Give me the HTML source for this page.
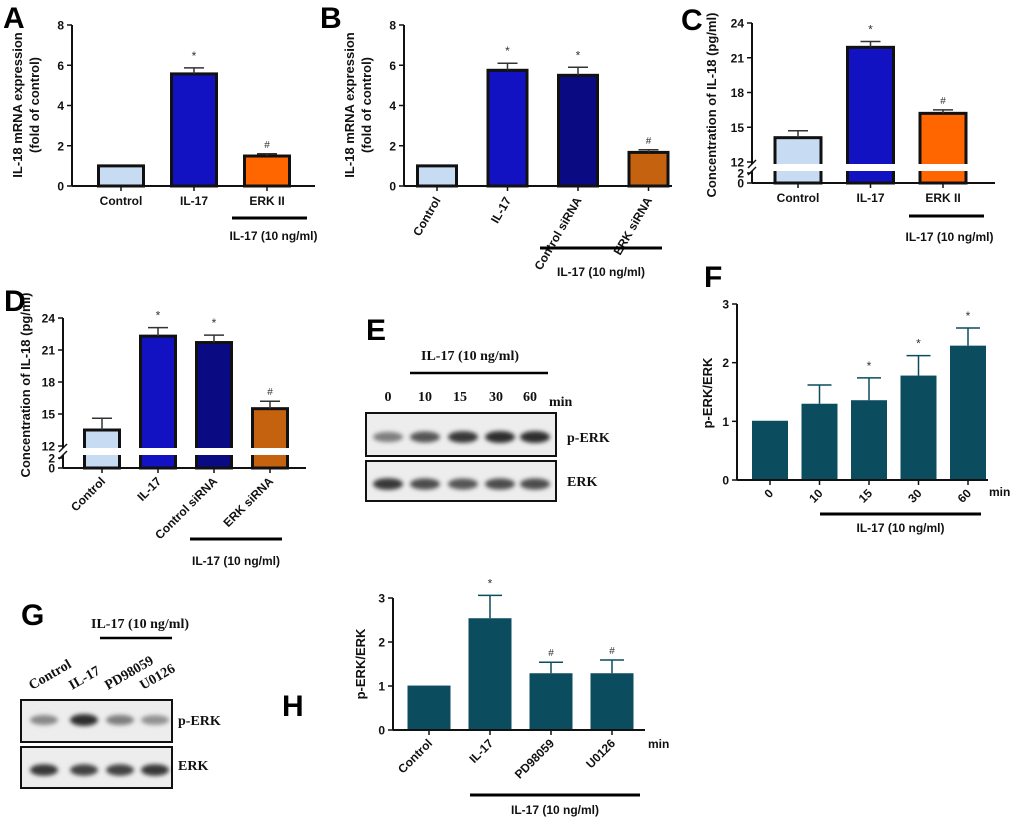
<!DOCTYPE html>
<html><head><meta charset="utf-8">
<style>
html,body{margin:0;padding:0;background:#fff;}
svg{display:block;font-family:"Liberation Sans",Arial,sans-serif;}
.lbl{font-weight:bold;font-size:12px;fill:#111;}
.tick{font-weight:bold;font-size:12px;fill:#111;}
.ttl{font-weight:bold;font-size:13px;fill:#111;}
.let{font-weight:bold;font-size:30px;fill:#000;}
.ser{font-family:"Liberation Serif",serif;font-weight:bold;font-size:14px;fill:#111;}
</style></head>
<body>
<svg id="fig" width="1020" height="821" viewBox="0 0 1020 821">
<defs>
<filter id="blur" x="-20%" y="-100%" width="140%" height="300%"><feGaussianBlur stdDeviation="2"/></filter>
<filter id="blur2" x="-20%" y="-100%" width="140%" height="300%"><feGaussianBlur stdDeviation="1.2"/></filter>
</defs>
</svg>
<script>
// ---- Panel A data ----
const catsA = ["Control","IL-17","ERK II"];
const valsA = [1.0, 5.57, 1.49];
const errsA = [0, 0.3, 0.11];
const markA = ["", "*", "#"];
const ticksA = [0,2,4,6,8];
// ---- Panel B data ----
const catsB = ["Control","IL-17","Control siRNA","ERK siRNA"];
const valsB = [1.0, 5.75, 5.5, 1.67];
const errsB = [0, 0.35, 0.4, 0.13];
const markB = ["", "*", "*", "#"];
const ticksB = [0,2,4,6,8];
// ---- Panel C data ----
const catsC = ["Control","IL-17","ERK II"];
const valsC = [14.1, 21.9, 16.2];
const errsC = [0.6, 0.5, 0.3];
const markC = ["", "*", "#"];
const ticksC = [0,2,12,15,18,21,24];
// ---- Panel D data ----
const catsD = ["Control","IL-17","Control siRNA","ERK siRNA"];
const valsD = [13.5, 22.3, 21.7, 15.5];
const errsD = [1.1, 0.8, 0.7, 0.7];
const markD = ["", "*", "*", "#"];
const ticksD = [0,2,12,15,18,21,24];
// ---- Panel F data ----
const catsF = ["0","10","15","30","60"];
const valsF = [1.01, 1.3, 1.36, 1.78, 2.29];
const errsF = [0, 0.32, 0.38, 0.34, 0.3];
const markF = ["", "", "*", "*", "*"];
const ticksF = [0,1,2,3];
// ---- Panel H data ----
const catsH = ["Control","IL-17","PD98059","U0126"];
const valsH = [1.01, 2.54, 1.29, 1.29];
const errsH = [0, 0.52, 0.25, 0.3];
const markH = ["", "*", "#", "#"];
const ticksH = [0,1,2,3];

const NS="http://www.w3.org/2000/svg";
const svg=document.getElementById('fig');
function mk(tag,attrs,parent,text){
  const e=document.createElementNS(NS,tag);
  for(const k in attrs) e.setAttribute(k,attrs[k]);
  if(text!==undefined) e.textContent=text;
  (parent||svg).appendChild(e);
  return e;
}
function linScale(d0,d1,r0,r1){return v=>r0+(v-d0)*(r1-r0)/(d1-d0);}
function brokenScale(y0,y2,y12,y24){
  return v=> v<=2 ? y0-(v/2)*(y0-y2) : y12-((v-12)/12)*(y12-y24);
}

function panel(o, cats, vals, errs, marks, ticks){
  const g=mk('g',{});
  
  
  const y=o.y, x0=o.axisX, yBase=o.y0;
  // bars
  cats.forEach((c,i)=>{
    const cx=o.cx0+i*o.step;
    const top=y(vals[i]);
    const r=mk('rect',{x:cx-o.bw/2,y:top,width:o.bw,height:yBase-top,fill:o.colors[i],stroke:o.stroke||'none','stroke-width':o.stroke?3:0},g);
    
    
    if(errs[i]>0){
      const et=y(vals[i]+errs[i]);
      mk('line',{x1:cx,x2:cx,y1:top,y2:et,stroke:o.errColor,'stroke-width':1.5},g);
      mk('line',{x1:cx-o.cap,x2:cx+o.cap,y1:et,y2:et,stroke:o.errColor,'stroke-width':1.5},g);
    }
    if(marks[i]){
      const et=y(vals[i]+errs[i]);
      const t=mk('text',{x:cx,y:et-(marks[i]==='*'?8:6),'text-anchor':'middle','font-size':marks[i]==='*'?12:10,fill:'#333'},g,marks[i]);
      
      
    }
    // x tick
    mk('line',{x1:cx,x2:cx,y1:yBase,y2:yBase+5,stroke:'#111','stroke-width':1.5},g);
    // x label
    if(o.rot){
      const t=mk('text',{x:cx+4,y:yBase+14,'text-anchor':'end',class:'lbl',transform:`rotate(${o.rot} ${cx+4} ${yBase+14})`},g,c);
      
      
    } else {
      const t=mk('text',{x:cx,y:yBase+19,'text-anchor':'middle',class:'lbl'},g,c);
      
      
    }
  });
  // broken gap
  if(o.gap){
    mk('rect',{x:x0+10,y:o.gap[0],width:o.axisEnd-x0,height:o.gap[1]-o.gap[0],fill:'#fff'},g);
  }
  // axes
  mk('line',{x1:x0,x2:o.axisEnd,y1:yBase,y2:yBase,stroke:'#111','stroke-width':2},g);
  if(o.gap){
    mk('line',{x1:x0,x2:x0,y1:y(ticks[ticks.length-1]),y2:o.gap[0],stroke:'#111','stroke-width':2},g);
    mk('line',{x1:x0,x2:x0,y1:o.gap[1],y2:yBase,stroke:'#111','stroke-width':2},g);
    mk('line',{x1:x0-4,x2:x0+4,y1:o.gap[0]+4,y2:o.gap[0]-4,stroke:'#111','stroke-width':1.5},g);
    mk('line',{x1:x0-4,x2:x0+4,y1:o.gap[1]+4,y2:o.gap[1]-4,stroke:'#111','stroke-width':1.5},g);
  } else {
    mk('line',{x1:x0,x2:x0,y1:y(ticks[ticks.length-1]),y2:yBase,stroke:'#111','stroke-width':2},g);
  }
  ticks.forEach(t=>{
    const ty=y(t);
    mk('line',{x1:x0-5,x2:x0,y1:ty,y2:ty,stroke:'#111','stroke-width':1.5},g);
    const tx=mk('text',{x:x0-8,y:ty+4.5,'text-anchor':'end',class:'tick'},g,String(t));
    
    
  });
  // y title
  o.titles.forEach((tt,k)=>{
    const t=mk('text',{x:tt[1],y:o.titleY,'text-anchor':'middle',class:'ttl',transform:`rotate(-90 ${tt[1]} ${o.titleY})`},g,tt[0]);
    
    
  });
  // treatment bar
  if(o.under){
    mk('line',{x1:o.under[0],x2:o.under[1],y1:o.under[2],y2:o.under[2],stroke:'#000','stroke-width':3},g);
    const t=mk('text',{x:(o.under[0]+o.under[1])/2+(o.under[4]||0),y:o.under[3],'text-anchor':'middle',class:'lbl','font-size':13},g,'IL-17 (10 ng/ml)');
    
    
  }
  if(o.min){
    const t=mk('text',{x:o.min[0],y:o.min[1],class:'lbl'},g,'min');
    
    
  }
  // letter
  const L=mk('text',{x:o.letter[1],y:o.letter[2],class:'let'},g,o.letter[0]);
  
  
}

const LB='#c7dcf3', BL='#1212c2', NV='#0a0a82', OR='#ff6600', BR='#c4620f', TE='#0c4c5f';

panel({name:'panel-a-chart',y:linScale(0,8,186,25),y0:186,axisX:72,axisEnd:315,cx0:121,step:73,bw:45,
  colors:[LB,BL,OR],stroke:'#111',errColor:'#333',cap:10,
  titles:[['IL-18 mRNA expression',22],['(fold of control)',39]],titleY:105,
  under:[232,307,218,240,4],letter:['A',3,28]},catsA,valsA,errsA,markA,ticksA);

panel({name:'panel-b-chart',y:linScale(0,8,186,25),y0:186,axisX:404,axisEnd:672,cx0:437,step:70.5,bw:39,
  colors:[LB,BL,NV,BR],stroke:'#111',errColor:'#333',cap:10,rot:-60,
  titles:[['IL-18 mRNA expression',354],['(fold of control)',371]],titleY:105,
  under:[540,662,248,276,0],letter:['B',320,28]},catsB,valsB,errsB,markB,ticksB);

panel({name:'panel-c-chart',y:brokenScale(183,173,162,23),y0:183,axisX:752,axisEnd:995,cx0:798,step:72.5,bw:46,
  colors:[LB,BL,OR],stroke:'#111',errColor:'#333',cap:10,gap:[164,171],
  titles:[['Concentration of IL-18 (pg/ml)',716]],titleY:105,
  under:[909,984,216,241,3],letter:['C',681,30]},catsC,valsC,errsC,markC,ticksC);

panel({name:'panel-d-chart',y:brokenScale(468,458,446,318),y0:468,axisX:63,axisEnd:306,cx0:102,step:56,bw:35,
  colors:[LB,BL,NV,BR],stroke:'#111',errColor:'#333',cap:10,gap:[448,455],rot:-45,
  titles:[['Concentration of IL-18 (pg/ml)',30]],titleY:385,
  under:[190,282,539,565,0],letter:['D',4,311]},catsD,valsD,errsD,markD,ticksD);

panel({name:'panel-f-chart',y:linScale(0,3,480,304),y0:480,axisX:737,axisEnd:988,cx0:770,step:49.5,bw:36,
  colors:[TE,TE,TE,TE,TE],errColor:TE,cap:12,rot:-45,
  titles:[['p-ERK/ERK',712]],titleY:393,
  under:[820,981,514,532,0],min:[989,496],letter:['F',704,287]},catsF,valsF,errsF,markF,ticksF);

panel({name:'panel-h-chart',y:linScale(0,3,730,598),y0:730,axisX:393,axisEnd:645,cx0:429,step:61,bw:43,
  colors:[TE,TE,TE,TE],errColor:TE,cap:12,rot:-45,
  titles:[['p-ERK/ERK',365]],titleY:664,
  under:[470,640,795,814,0],min:[648,748],letter:['H',282,716]},catsH,valsH,errsH,markH,ticksH);

// ---- Blots ----
const bandsE_p=[0.55,0.75,0.9,0.95,0.95];
const bandsE_t=[0.9,0.8,0.75,0.8,0.8];
const bandsG_p=[0.5,0.95,0.55,0.45];
const bandsG_t=[0.9,0.85,0.85,0.9];
function blot(name,x,y,w,h,cxs,ints,bw,bandY){
  const g=mk('g',{});
  
  
  mk('rect',{x:x,y:y,width:w,height:h,fill:'#ededed',stroke:'#111','stroke-width':2},g);
  cxs.forEach((cx,i)=>{
    mk('ellipse',{cx:cx,cy:y+bandY,rx:bw/2,ry:4+ints[i]*2,fill:'#000','fill-opacity':ints[i]*0.85,filter:'url(#blur)'},g);
  });
}
blot('blot-e-perk',366,413,190,43,[388,425,463,500,535],bandsE_p,30,24);
blot('blot-e-erk',366,461,190,40,[388,425,463,500,535],bandsE_t,30,23);
blot('blot-g-perk',21,700,151,42,[44,84,120,155],bandsG_p,28,20);
blot('blot-g-erk',21,747,151,41,[44,84,120,155],bandsG_t,28,23);

function st(txt,x,y,name,extra){
  const t=mk('text',Object.assign({x:x,y:y,class:'ser'},extra||{}),svg,txt);
  
  
  return t;
}
// E labels
mk('text',{x:366,y:340,class:'let'},svg,'E');
st('IL-17 (10 ng/ml)',470,360,'treatment-label',{'text-anchor':'middle'});
mk('line',{x1:410,x2:548,y1:373,y2:373,stroke:'#000','stroke-width':2.5});
['0','10','15','30','60'].forEach((l,i)=>st(l,[388,425,460,496,530][i],401,'lane-label',{'text-anchor':'middle'}));
st('min',549,406,'unit-label',{'font-size':12});
st('p-ERK',567,442,'band-label');
st('ERK',567,486,'band-label');
// G labels
mk('text',{x:21,y:625,class:'let'},svg,'G');
st('IL-17 (10 ng/ml)',140,628,'treatment-label',{'text-anchor':'middle'});
mk('line',{x1:100,x2:172,y1:638,y2:638,stroke:'#000','stroke-width':2.5});
[['Control',44],['IL-17',84],['PD98059',120],['U0126',155]].forEach(a=>{
  st(a[0],a[1]-12,690,'lane-label',{transform:`rotate(-30 ${a[1]-12} 690)`});
});
st('p-ERK',178,725,'band-label');
st('ERK',178,770,'band-label');
</script>
</body></html>
